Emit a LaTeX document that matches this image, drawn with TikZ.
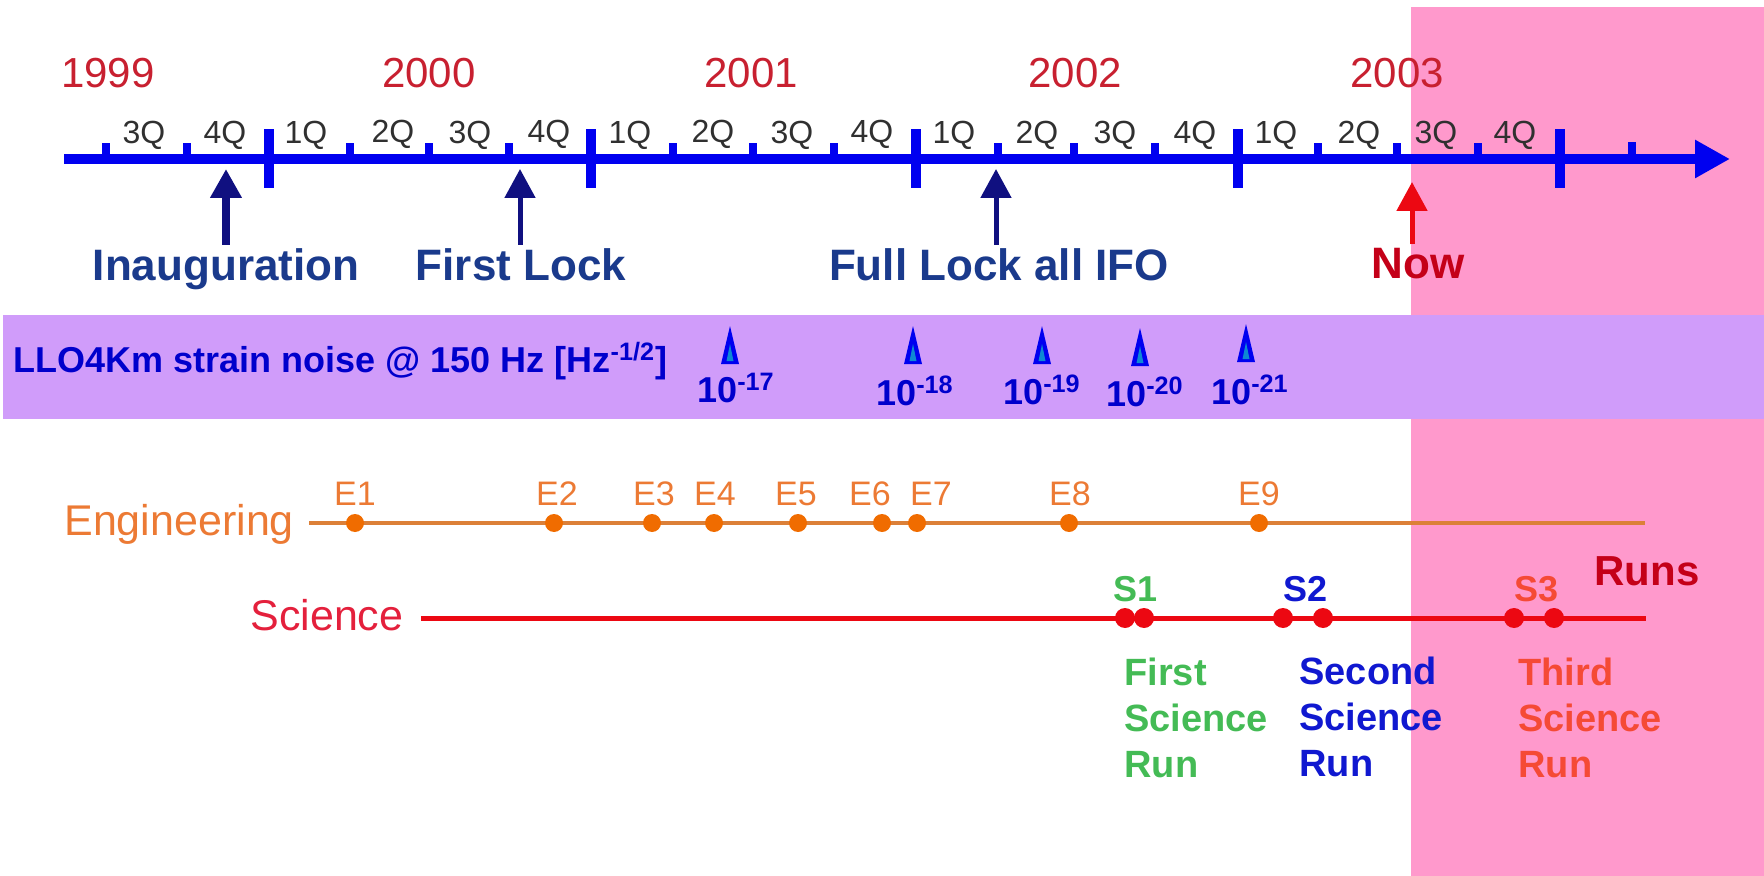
\documentclass[tikz,border=0pt]{standalone}
\usepackage{fontspec}
\setmainfont{Liberation Sans}
\usetikzlibrary{arrows.meta,shapes.geometric}
\definecolor{pinkarea}{HTML}{FF99CC}
\definecolor{purpleband}{HTML}{D09CFA}
\definecolor{axisblue}{HTML}{0000F0}
\definecolor{yearred}{HTML}{C82030}
\definecolor{quartergray}{HTML}{303030}
\definecolor{navyarrow}{HTML}{101080}
\definecolor{navytext}{HTML}{1A3A8C}
\definecolor{nowred}{HTML}{C40018}
\definecolor{engorange}{HTML}{EC7A34}
\definecolor{engline}{HTML}{DC8038}
\definecolor{engspot}{HTML}{F06C00}
\definecolor{sciencered}{HTML}{EC0812}
\definecolor{sciencetext}{HTML}{E4203C}
\definecolor{firstgreen}{HTML}{44BB55}
\definecolor{secondblue}{HTML}{1018D0}
\definecolor{thirdred}{HTML}{F54A35}
\tikzset{
	yearlabel/.style={anchor=base,inner sep=0pt,text=yearred,font=\fontsize{21pt}{24pt}\selectfont},
	quarterlabel/.style={anchor=base,inner sep=0pt,text=quartergray,font=\fontsize{16pt}{18pt}\selectfont},
	bigtick/.style={rectangle,fill=axisblue,inner sep=0pt,minimum width=5pt,minimum height=29.5pt},
	smalltick/.style={rectangle,fill=axisblue,inner sep=0pt,minimum width=4pt,minimum height=8pt},
	eventlabel/.style={anchor=base,inner sep=0pt,text=navytext,font=\fontsize{22pt}{24pt}\bfseries\selectfont},
	eventarrow/.style={draw=navyarrow,line width=2.5pt,-{Triangle[length=14.5pt,width=15pt]}},
	spire/.style={isosceles triangle,shape border rotate=90,isosceles triangle stretches,anchor=apex,fill=axisblue,inner sep=0pt,minimum width=9pt,minimum height=19pt},
	spirecore/.style={isosceles triangle,shape border rotate=90,isosceles triangle stretches,anchor=apex,fill=cyan!70!blue,inner sep=0pt,minimum width=3.5pt,minimum height=8.5pt},
	noiselabel/.style={anchor=base,inner sep=0pt,text=axisblue!85!black,font=\fontsize{18pt}{20pt}\bfseries\selectfont},
	englabel/.style={anchor=base,inner sep=0pt,text=engorange,font=\fontsize{17pt}{18pt}\selectfont},
	engdot/.style={circle,fill=engspot,inner sep=0pt,minimum size=9pt},
	runlabel/.style={anchor=base,inner sep=0pt,font=\fontsize{18pt}{20pt}\bfseries\selectfont},
	scidot/.style={circle,fill=sciencered,inner sep=0pt,minimum size=10pt},
	runtext/.style={anchor=north west,inner sep=0pt,align=left,font=\fontsize{19pt}{23pt}\bfseries\selectfont}
}
\begin{document}
\begin{tikzpicture}[x=0.5pt,y=-0.5pt]
	\useasboundingbox (0,0) rectangle (1764,876);
	
	% shaded future and noise band
	\node[rectangle,fill=pinkarea,inner sep=0pt,anchor=north west,minimum width=176.5pt,minimum height=434.5pt] (future) at (1411,7) {};
	\node[rectangle,fill=purpleband,inner sep=0pt,anchor=north west,minimum width=880.5pt,minimum height=52pt] (band) at (3,315) {};
	
	% time axis
	\coordinate (axisstart) at (64,159);
	\coordinate (axisend) at (1730,159);
	\draw[axisblue,line width=4.75pt,-{Triangle[length=17.5pt,width=18pt]}] (axisstart) -- (axisend);
	
	\node[bigtick] (y2000) at (269,158.5) {};
	\node[bigtick] (y2001) at (591,158.5) {};
	\node[bigtick] (y2002) at (916,158.5) {};
	\node[bigtick] (y2003) at (1238,158.5) {};
	\node[bigtick] (y2004) at (1560,158.5) {};
	
	\node[smalltick] (t1) at (106,151) {};
	\node[smalltick] (t2) at (187,151) {};
	\node[smalltick] (t3) at (350,151) {};
	\node[smalltick] (t4) at (429,151) {};
	\node[smalltick] (t5) at (509,151) {};
	\node[smalltick] (t6) at (673,151) {};
	\node[smalltick] (t7) at (753,151) {};
	\node[smalltick] (t8) at (834,151) {};
	\node[smalltick] (t9) at (998,151) {};
	\node[smalltick] (t10) at (1074,151) {};
	\node[smalltick] (t11) at (1155,151) {};
	\node[smalltick] (t12) at (1318,151) {};
	\node[smalltick] (t13) at (1397,151) {};
	\node[smalltick] (t14) at (1478,151) {};
	\node[smalltick] (t15) at (1632,150) {};
	
	% years and quarters
	\node[yearlabel] (l1999) at (108,88) {1999};
	\node[yearlabel] (l2000) at (429,88) {2000};
	\node[yearlabel] (l2001) at (751,88) {2001};
	\node[yearlabel] (l2002) at (1075,88) {2002};
	\node[yearlabel] (l2003) at (1397,88) {2003};
	
	\node[quarterlabel] (q1) at (144,144) {3Q};
	\node[quarterlabel] (q2) at (225,144) {4Q};
	\node[quarterlabel] (q3) at (306,144) {1Q};
	\node[quarterlabel] (q4) at (393,143) {2Q};
	\node[quarterlabel] (q5) at (470,144) {3Q};
	\node[quarterlabel] (q6) at (549,143) {4Q};
	\node[quarterlabel] (q7) at (630,144) {1Q};
	\node[quarterlabel] (q8) at (713,143) {2Q};
	\node[quarterlabel] (q9) at (792,144) {3Q};
	\node[quarterlabel] (q10) at (872,143) {4Q};
	\node[quarterlabel] (q11) at (954,144) {1Q};
	\node[quarterlabel] (q12) at (1037,144) {2Q};
	\node[quarterlabel] (q13) at (1115,144) {3Q};
	\node[quarterlabel] (q14) at (1195,144) {4Q};
	\node[quarterlabel] (q15) at (1276,144) {1Q};
	\node[quarterlabel] (q16) at (1359,144) {2Q};
	\node[quarterlabel] (q17) at (1436,144) {3Q};
	\node[quarterlabel] (q18) at (1515,144) {4Q};
	
	% events on the axis
	\node[eventlabel] (inauguration) at (226,281) {Inauguration};
	\node[eventlabel] (firstlock) at (521,281) {First Lock};
	\node[eventlabel] (fulllock) at (999,281) {Full Lock all IFO};
	\node[eventlabel,text=nowred] (now) at (1418,279) {Now};
	
	\coordinate (inauguration tip) at (226,169);
	\coordinate (firstlock tip) at (520,169);
	\coordinate (fulllock tip) at (996,169);
	\coordinate (now tip) at (1412,182);
	
	\draw[eventarrow,line width=4pt] ([yshift=2pt]inauguration tip |- inauguration.north) -- (inauguration tip);
	\draw[eventarrow] ([yshift=2pt]firstlock tip |- firstlock.north) -- (firstlock tip);
	\draw[eventarrow] ([yshift=2pt]fulllock tip |- fulllock.north) -- (fulllock tip);
	\draw[eventarrow,draw=sciencered,fill=sciencered] ([yshift=2pt]now tip |- now.north) -- (now tip);
	
	% strain noise band
	\node[anchor=base west,inner sep=0pt,text=axisblue!85!black,font=\fontsize{18pt}{20pt}\bfseries\selectfont] (noisetitle) at (13,373) {LLO4Km strain noise @ 150 Hz [Hz\textsuperscript{-1/2}]};
	
	\node[spire] (s17) at (730,325) {};
	\node[spire] (s18) at (913,325) {};
	\node[spire] (s19) at (1042,325) {};
	\node[spire] (s20) at (1140,327) {};
	\node[spire] (s21) at (1246,323) {};
	\node[spirecore] (c17) at (730,343) {};
	\node[spirecore] (c18) at (913,343) {};
	\node[spirecore] (c19) at (1042,343) {};
	\node[spirecore] (c20) at (1140,345) {};
	\node[spirecore] (c21) at (1246,341) {};
	
	\node[noiselabel] (n17) at (736,403) {10\textsuperscript{-17}};
	\node[noiselabel] (n18) at (915,406) {10\textsuperscript{-18}};
	\node[noiselabel] (n19) at (1042,405) {10\textsuperscript{-19}};
	\node[noiselabel] (n20) at (1145,407) {10\textsuperscript{-20}};
	\node[noiselabel] (n21) at (1250,405) {10\textsuperscript{-21}};
	
	% engineering runs
	\node[anchor=base west,inner sep=0pt,text=engorange,font=\fontsize{21.5pt}{24pt}\selectfont] (engineering) at (64,535) {Engineering};
	\coordinate (engend) at (1645,523);
	\draw[engline,line width=1.75pt] (engineering.east |- engend) ++(15,0) coordinate (engstart) -- (engend);
	
	\node[engdot] (d1) at (355,523) {};
	\node[engdot] (d2) at (554,523) {};
	\node[engdot] (d3) at (652,523) {};
	\node[engdot] (d4) at (714,523) {};
	\node[engdot] (d5) at (798,523) {};
	\node[engdot] (d6) at (882,523) {};
	\node[engdot] (d7) at (917,523) {};
	\node[engdot] (d8) at (1069,523) {};
	\node[engdot] (d9) at (1259,523) {};
	
	\node[englabel] (e1) at (355,505) {E1};
	\node[englabel] (e2) at (557,505) {E2};
	\node[englabel] (e3) at (654,505) {E3};
	\node[englabel] (e4) at (715,505) {E4};
	\node[englabel] (e5) at (796,505) {E5};
	\node[englabel] (e6) at (870,505) {E6};
	\node[englabel] (e7) at (931,505) {E7};
	\node[englabel] (e8) at (1070,505) {E8};
	\node[englabel] (e9) at (1259,505) {E9};
	
	% science runs
	\node[anchor=base west,inner sep=0pt,text=sciencetext,font=\fontsize{21.5pt}{24pt}\selectfont] (science) at (250,630) {Science};
	\coordinate (sciend) at (1646,618);
	\draw[sciencered,line width=2.5pt] (science.east |- sciend) ++(17,0) coordinate (scistart) -- (sciend);
	
	\node[scidot] (r1a) at (1125,618) {};
	\node[scidot] (r1b) at (1144,618) {};
	\node[scidot] (r2a) at (1283,618) {};
	\node[scidot] (r2b) at (1323,618) {};
	\node[scidot] (r3a) at (1514,618) {};
	\node[scidot] (r3b) at (1554,618) {};
	
	\node[runlabel,text=firstgreen] (s1) at (1135,601) {S1};
	\node[runlabel,text=secondblue] (s2) at (1305,601) {S2};
	\node[runlabel,text=thirdred] (s3) at (1536,601) {S3};
	
	\node[runtext,text=firstgreen] (run1) at (1124,658) {First\\Science\\Run};
	\node[runtext,text=secondblue] (run2) at (1299,657) {Second\\Science\\Run};
	\node[runtext,text=thirdred] (run3) at (1518,658) {Third\\Science\\Run};
	
	\node[anchor=base,inner sep=0pt,text=nowred,font=\fontsize{21pt}{24pt}\bfseries\selectfont] (runs) at (1647,585) {Runs};
\end{tikzpicture}
\end{document}
